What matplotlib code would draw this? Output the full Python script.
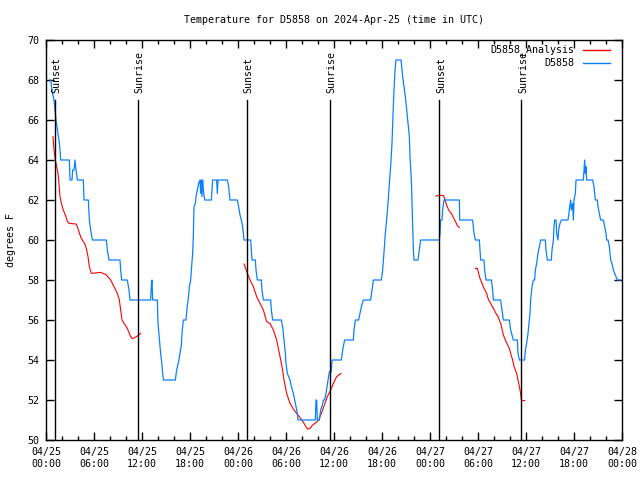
import pandas as pd
import matplotlib
matplotlib.use('Agg')
import matplotlib.pyplot as plt
import matplotlib.dates as mdates

plt.rcParams['font.family'] = ['DejaVu Sans Mono']
plt.rcParams['font.size'] = 7.2

start = pd.Timestamp('2024-04-25 00:00')

# observed temperature (hours after start, degrees F)
obs_hours = [0.5, 0.583, 0.833, 1.0, 1.125, 1.25, 1.5, 1.625, 1.75, 1.833, 2.917, 3.0, 3.25, 3.333, 3.5,
             3.625, 3.75, 3.917, 4.667, 4.75, 5.292, 5.417, 5.583, 5.792, 7.542, 7.667, 7.875, 9.25, 9.333,
             9.458, 10.167, 10.375, 10.5,
             13.08, 13.17, 13.25, 13.33, 13.92, 14.0, 14.17, 14.33, 14.5, 14.58, 14.67, 16.17, 16.33, 16.58,
             16.75, 16.92, 17.0, 17.08, 17.17, 17.5, 17.58, 17.67, 17.79, 17.92, 18.08, 18.21, 18.33, 18.42,
             18.5, 18.67, 18.75, 18.92, 19.08, 19.25, 19.33, 19.42, 19.5, 19.58, 19.67, 19.83, 20.67, 20.83,
             21.33, 21.42, 21.5, 22.67, 22.83, 23.0, 23.92, 24.08, 24.25,
             24.42, 24.58, 24.75, 25.58, 25.67, 25.75, 26.17, 26.25, 26.42, 26.92, 27.0, 27.17, 28.08, 28.17,
             28.33, 29.42, 29.58, 29.75, 29.92, 30.0, 30.17, 30.33, 30.5, 30.67, 30.92, 31.08, 31.25, 31.42,
             31.5, 33.67, 33.75, 33.83, 33.92, 34.17, 34.33, 34.5, 34.67, 34.83, 35.0, 35.25, 35.42, 35.67,
             35.75,
             36.92, 37.08, 37.33, 38.42, 38.5, 38.67, 39.08, 39.25, 39.42, 39.67, 40.58, 40.75, 40.92, 41.92,
             42.08, 42.21, 42.42, 42.58, 42.75, 42.92, 43.08, 43.25, 43.38, 43.5, 43.63, 43.75, 44.38, 44.58,
             44.75, 44.92, 45.17, 45.42, 45.5, 45.67, 45.75, 45.83, 45.92, 46.0, 46.5, 46.67, 46.83, 48.25,
             49.17, 49.25, 49.33, 49.5, 49.58, 49.75, 51.67, 51.71, 53.33, 53.5, 53.67, 54.17, 54.25, 54.33,
             54.75, 54.83, 55.0, 55.67, 55.83, 55.92, 56.83, 57.0, 57.17, 57.92, 58.08, 58.25, 58.42, 58.92,
             59.0, 59.17, 59.83,
             59.92, 60.08, 60.25, 60.42, 60.5, 60.58, 60.75, 60.92, 61.08, 61.17, 61.33, 61.5, 61.67, 61.83,
             62.42, 62.5, 62.67, 63.17, 63.25, 63.42, 63.5, 63.58, 63.75, 63.83, 64.0, 64.08, 64.25, 64.42,
             65.25, 65.42, 65.58, 65.67, 65.83, 65.92, 66.0, 66.17, 66.25, 67.17, 67.25, 67.33, 67.42, 67.5,
             67.58, 68.33, 68.5, 68.67, 68.92, 69.0, 69.17, 69.33, 69.67, 69.83, 70.0, 70.08, 70.25, 70.42,
             70.58, 70.75, 70.92, 71.08, 71.25, 71.42, 71.83]
obs_temp = [68, 68, 67.3, 67, 66.5, 66, 65.3, 65, 64.5, 64, 64, 63, 63, 63.5, 63.5,
            64, 63.5, 63, 63, 62, 62, 61, 60.5, 60, 60, 59.5, 59, 59, 58.5,
            58, 58, 57.5, 57,
            57, 57.75, 58, 57, 57, 55.83, 55.08, 54.33, 53.75, 53.33, 53, 53, 53.5, 53.92,
            54.33, 54.75, 55.33, 55.67, 56, 56, 56.33, 56.75, 57.08, 57.67, 58, 58.67, 59.33, 60.25,
            61.67, 61.83, 62.17, 62.5, 62.83, 63, 62.33, 63, 62.17, 63, 62.5, 62, 62, 63,
            63, 62.33, 63, 63, 62.67, 62, 62, 61.67, 61.25,
            61, 60.67, 60, 60, 59.5, 59, 59, 58.5, 58, 58, 57.5, 57, 57, 56.5,
            56, 56, 55.67, 55, 54.33, 53.83, 53.33, 53.17, 53, 52.67, 52.33, 52, 51.67, 51.33,
            51, 51, 52, 52, 51, 51, 51.5, 51.67, 52, 52, 52.33, 53, 53.42, 53.42,
            54,
            54, 54.5, 55, 55, 55.5, 56, 56, 56.33, 56.67, 57, 57, 57.5, 58, 58,
            58.5, 59.17, 60.33, 61, 61.83, 62.83, 63.67, 64.83, 66.33, 67.5, 68.53, 69, 69, 68.17,
            67.67, 67.17, 66.17, 65.17, 64.17, 63, 61.83, 60.67, 59.5, 59, 59, 59.5, 60, 60,
            60, 60.33, 61, 61, 61.5, 62, 62, 61, 61, 60.33, 60, 60, 59.5, 59,
            59, 58.5, 58, 58, 57.5, 57, 57, 56.5, 56, 56, 55.5, 55.25, 55, 55,
            54.33, 54, 54,
            54.5, 54.83, 55.33, 56, 56.33, 57, 57.67, 58, 58, 58.5, 58.83, 59.33, 59.67, 60,
            60, 59.5, 59, 59, 59.5, 60, 60.67, 61, 61, 60.33, 60, 60.5, 60.83, 61,
            61, 61.5, 62, 61.5, 61.83, 61, 62, 62.33, 63, 63, 63.5, 64, 63.33, 63.67,
            63, 63, 62.67, 62, 62, 61.67, 61.33, 61, 61, 60.67, 60.33, 60, 60, 59.67,
            59, 58.83, 58.5, 58.33, 58.17, 58, 58]

# analysis runs (separate pieces)
ana1_hours = [0.875, 1.0, 1.167, 1.333, 1.5, 1.583, 1.75, 1.917, 2.167, 2.5, 2.667, 2.917, 3.75, 3.917,
              4.25, 4.417, 4.667, 4.917, 5.083, 5.25, 5.417, 5.667, 6.833, 7.5, 7.917, 8.083, 8.5, 8.917,
              9.167, 9.333, 9.5, 9.75, 10.167, 10.583, 10.75, 10.917, 11.417, 11.833]
ana1_temp = [65.17, 64.5, 64, 63.67, 63.33, 63, 62.17, 61.83, 61.5, 61.17, 60.92, 60.83, 60.8, 60.67,
             60.25, 60.08, 59.92, 59.75, 59.5, 59.17, 58.67, 58.33, 58.38, 58.27, 58.08, 58, 57.67, 57.33,
             57, 56.5, 56, 55.83, 55.58, 55.17, 55.08, 55.08, 55.2, 55.33]
ana2_hours = [24.75, 25.17, 25.5, 25.92, 26.33, 26.75, 27.17, 27.58, 28.0, 28.42, 28.83, 29.17, 29.5, 29.75,
              30.08, 30.5, 31.0, 31.33, 31.83, 32.25, 32.67, 33.0, 33.33, 33.75, 34.08, 34.42, 34.8, 35.17,
              35.5, 35.92, 36.33, 36.88]
ana2_temp = [58.8, 58.33, 58, 57.67, 57.17, 56.83, 56.5, 55.92, 55.83, 55.5, 55.0, 54.33, 53.67, 53.0,
             52.33, 51.83, 51.5, 51.33, 51.08, 50.83, 50.55, 50.58, 50.75, 50.87, 51.0, 51.33, 51.75, 52.17,
             52.42, 52.83, 53.17, 53.33]
ana3_hours = [48.75, 49.25, 49.67, 49.83, 50.0, 50.33, 50.67, 51.08, 51.5, 51.67]
ana3_temp = [62.2, 62.23, 62.23, 62.08, 61.83, 61.5, 61.33, 61, 60.67, 60.63]
ana4_hours = [53.67, 53.92, 54.08, 54.25, 54.58, 54.75, 55.08, 55.25, 55.58, 55.92, 56.25, 56.5, 56.67, 56.83,
              57.08, 57.17, 57.5, 57.92, 58.08, 58.33, 58.5, 58.67, 58.83, 59.0, 59.17, 59.25, 59.33, 59.42,
              59.58, 59.83]
ana4_temp = [58.58, 58.58, 58.33, 58.08, 57.75, 57.58, 57.33, 57.08, 56.83, 56.58, 56.33, 56.17, 56.0, 55.83,
             55.42, 55.25, 54.92, 54.58, 54.33, 54.0, 53.67, 53.5, 53.33, 53.0, 52.67, 52.5, 52.33, 52.0,
             51.97, 51.97]

sun_hours = [1.13, 11.53, 25.13, 35.5, 49.17, 59.42]
sun_labels = ['Sunset', 'Sunrise', 'Sunset', 'Sunrise', 'Sunset', 'Sunrise']


def to_time(hours):
    return start + pd.to_timedelta(hours, unit='h')


fig = plt.figure(figsize=(6.4, 4.8), dpi=100)
ax = fig.add_axes([46 / 640, 40 / 480, 576 / 640, 400 / 480])

red = '#ff0000'
blue = '#0a80ff'
for h, t in [(ana1_hours, ana1_temp), (ana2_hours, ana2_temp),
             (ana3_hours, ana3_temp), (ana4_hours, ana4_temp)]:
    ax.plot(to_time(h), t, color=red, lw=0.8)
ax.plot(to_time(obs_hours), obs_temp, color=blue, lw=0.9)

for h, name in zip(sun_hours, sun_labels):
    t = to_time(h)
    ax.plot([t, t], [50, 67], color='black', lw=1, zorder=5)
    ax.text(t + pd.Timedelta(minutes=12), 67.35, name, rotation=90, ha='center', va='bottom')

ax.set_xlim(start, start + pd.Timedelta(days=3))
ax.set_ylim(50, 70)
ax.set_yticks(range(50, 71, 2))
ax.xaxis.set_major_locator(mdates.HourLocator(byhour=[0, 6, 12, 18]))
ax.xaxis.set_minor_locator(mdates.HourLocator(byhour=range(0, 24, 2)))
ax.xaxis.set_major_formatter(mdates.DateFormatter('%m/%d\n%H:%M'))
ax.tick_params(which='both', direction='in', top=True, right=True, width=1, labelsize=7.2)
ax.tick_params(which='major', length=6, pad=5)
ax.tick_params(which='minor', length=3)
for s in ax.spines.values():
    s.set_linewidth(1)

ax.set_title('Temperature for D5858 on 2024-Apr-25 (time in UTC)', fontsize=7.2, pad=12)
ax.set_ylabel('degrees F', fontsize=7.2, labelpad=8)

# legend, text right-aligned before the sample line
for i, (name, col) in enumerate([('D5858_Analysis', red), ('D5858', blue)]):
    yy = 0.975 - i * 0.0325
    ax.text(0.918, yy, name, transform=ax.transAxes, ha='right', va='center')
    ax.plot([0.932, 0.979], [yy, yy], transform=ax.transAxes, color=col, lw=1)

fig.savefig('out.png', dpi=100)
